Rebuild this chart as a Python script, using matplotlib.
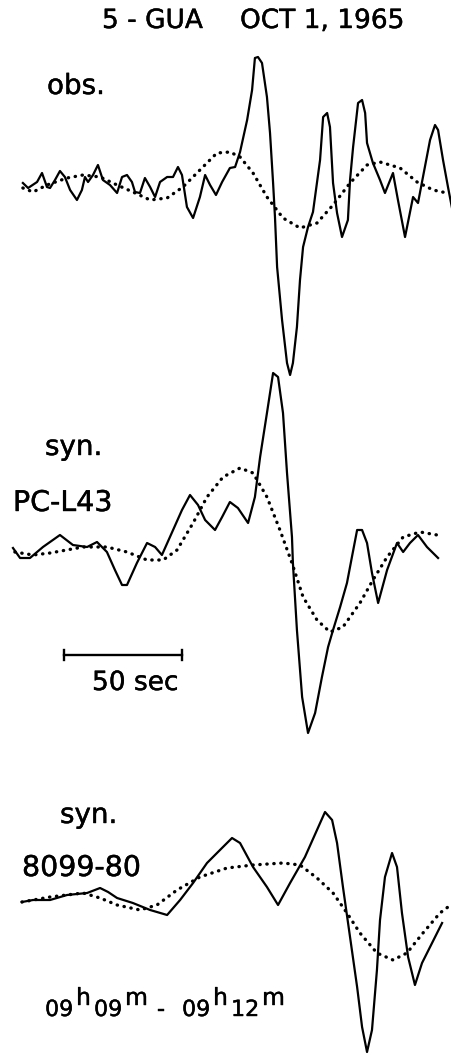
import numpy as np
import matplotlib
matplotlib.use('Agg')
import matplotlib.pyplot as plt
import matplotlib.patheffects as pe

# time in sec, amplitude in arbitrary units (positive up)
obs_t = [4.2, 6.4, 10.2, 12.3, 14.4, 15.7, 17.8, 19.9, 22.0, 24.2, 27.1, 29.2, 30.5, 31.8, 33.9,
         36.0, 38.1, 41.1, 44.1, 46.2, 48.3, 50.4, 51.7, 53.8, 55.9, 58.1, 60.2, 62.3, 65.3, 67.8,
         69.9, 71.6, 73.7, 76.3, 79.2, 81.4, 83.5, 86.0, 88.6, 91.9, 94.1, 96.2, 99.2, 101.3, 102.5,
         103.8, 105.5, 107.6, 108.9, 110.2, 111.0, 111.9, 114.0, 116.1, 117.4, 118.6, 120.3, 121.6,
         122.9, 125.0, 127.1, 130.1, 131.4, 133.1, 134.3, 135.6, 137.3, 139.4, 141.9, 142.8, 144.1,
         146.2, 147.9, 149.2, 150.0, 152.5, 155.5, 157.6, 161.0, 163.1, 166.1, 169.5, 171.6, 173.7,
         176.7, 178.8, 180.1, 182.2, 184.3, 186.0]
obs_a = [0.2, -0.3, 0.3, 1.2, -0.2, -0.3, 0.5, 1.4, 0.8, -0.5, -1.5, -0.5, 0.8, 0.3, 1.0,
         2.0, 0.5, 0.0, -0.8, 0.8, 1.0, 0.3, -0.7, -0.8, 0.7, -0.2, -1.2, 0.3, 0.8, 0.8,
         1.8, 1.0, -2.2, -3.3, -1.2, 1.0, 0.0, -1.0, 0.3, 1.7, 1.8, 3.3, 6.5, 9.5, 12.7,
         12.8, 12.2, 8.8, 5.2, 0.2, -3.2, -8.2, -13.5, -17.8, -19.0, -17.8, -14.2, -9.5,
         -6.2, -4.2, -2.7, 2.5, 6.8, 7.2, 5.8, 0.2, -2.8, -5.2, -3.5, 0.5, 3.8,
         8.2, 8.5, 7.2, 4.2, 2.2, 0.5, -0.8, 1.2, -1.5, -5.2, -1.2, -1.8, 0.8,
         4.5, 6.0, 5.5, 2.5, -0.2, -2.3]
obs_lp_t = [4.2, 8.5, 14.4, 22.9, 29.7, 36.9, 44.1, 50.8, 58.1, 65.3, 72.0, 79.2, 86.4, 91.9,
            96.2, 101.7, 107.6, 114.4, 121.6, 128.8, 135.6, 142.8, 150.0, 155.5, 164.0, 171.2,
            178.0, 183.9]
obs_lp_a = [-0.3, -0.7, 0.0, 0.7, 1.0, 0.8, 0.0, -0.7, -1.5, -1.3, -0.2, 1.5, 3.2, 3.3,
            2.8, 1.2, -1.2, -3.3, -4.3, -3.8, -2.0, 0.2, 2.0, 2.3, 1.7, 0.3,
            -0.5, -0.8]

pc_t = [0.0, 3.0, 7.2, 12.7, 19.9, 25.4, 31.4, 35.6, 39.8, 43.2, 46.2, 48.3, 52.5, 56.8, 60.2,
        63.1, 66.5, 71.6, 75.0, 78.4, 81.4, 85.6, 88.6, 91.9, 95.3, 99.6, 102.5, 104.7, 107.6,
        110.2, 112.3, 114.4, 116.1, 118.2, 118.6, 120.3, 122.5, 125.0, 128.0, 130.9, 133.5,
        135.6, 138.6, 141.5, 143.6, 145.8, 147.9, 150.0, 152.1, 154.7, 158.5, 162.7, 165.3,
        168.2, 171.6, 175.4, 180.1]
pc_a = [0.2, -0.8, -0.8, 0.3, 1.5, 0.5, 0.3, 0.8, -0.2, -2.0, -3.5, -3.5, -1.3, 0.7, 0.3,
        -0.5, 1.3, 4.0, 5.5, 4.5, 3.0, 2.0, 3.3, 4.8, 4.2, 2.7, 5.3, 9.3, 13.7,
        17.7, 17.3, 13.7, 7.7, 1.3, -1.3, -8.0, -14.7, -18.3, -16.3, -12.7, -9.7,
        -8.0, -5.7, -3.3, -0.7, 2.0, 2.0, 0.7, -2.3, -5.3, -2.0, 0.7, -0.2,
        0.7, 1.5, 0.3, -0.8]
pc_lp_t = [0.8, 8.5, 15.7, 29.7, 39.8, 48.3, 56.8, 63.6, 69.5, 76.3, 82.2, 89.0, 96.2, 101.7,
           107.6, 113.1, 118.2, 122.9, 128.8, 134.3, 139.8, 147.0, 152.5, 158.5, 165.3, 172.5,
           179.7]
pc_lp_a = [-0.2, -0.5, -0.3, 0.3, 0.3, -0.2, -1.0, -1.0, 0.0, 2.7, 5.3, 7.3, 8.2, 7.7,
           5.3, 2.0, -1.3, -4.7, -7.0, -8.2, -7.7, -5.3, -3.0, -0.7, 1.3, 1.8,
           1.5]

m80_t = [3.8, 8.5, 15.7, 22.9, 31.4, 36.9, 40.3, 44.1, 50.8, 58.1, 65.3, 70.8, 76.3, 82.2, 87.7,
         92.8, 96.2, 101.7, 107.6, 112.3, 117.4, 123.7, 128.8, 132.2, 135.2, 137.3, 139.8, 142.8,
         145.8, 147.9, 150.0, 152.1, 154.2, 155.5, 157.6, 160.6, 162.7, 164.8, 167.4, 170.3,
         173.3, 176.7, 181.8]
m80_a = [-0.2, 0.0, 0.0, 0.5, 0.7, 1.2, 0.8, 0.2, -0.3, -1.0, -1.5, 0.0, 1.7, 3.7, 5.0,
         6.2, 5.7, 3.3, 1.3, -0.5, 1.7, 4.3, 7.0, 8.8, 8.0, 5.7, 1.3, -3.7,
         -8.7, -12.7, -15.2, -13.0, -7.0, -2.0, 2.3, 4.7, 3.3, -1.3, -5.7, -8.5,
         -6.3, -4.7, -2.3]
m80_lp_t = [3.8, 15.7, 29.7, 36.9, 44.1, 53.8, 61.0, 69.5, 79.2, 90.7, 101.7, 114.4, 121.6, 128.8,
            135.6, 141.5, 147.0, 154.2, 161.0, 166.9, 173.7, 180.9, 184.3]
m80_lp_a = [-0.2, 0.3, 0.7, 0.2, -0.5, -1.0, -0.5, 1.0, 2.3, 3.2, 3.5, 3.7, 3.5, 2.2,
            0.7, -1.3, -3.3, -5.3, -6.0, -5.3, -3.3, -1.3, -0.7]

traces = [(obs_t, obs_a, obs_lp_t, obs_lp_a, 0.0),
          (pc_t, pc_a, pc_lp_t, pc_lp_a, -36.5),
          (m80_t, m80_a, m80_lp_t, m80_lp_a, -71.5)]

plt.rcParams['font.family'] = ['DejaVu Sans']
fig = plt.figure(figsize=(4.52, 10.54), dpi=100)
ax = fig.add_axes([0, 0, 1, 1])
ax.set_xlim(-5.5, 186.0)
ax.set_ylim(-86.9, 18.5)
ax.axis('off')

for t, a, tl, al, off in traces:
    ax.plot(t, np.array(a) + off, color='black', lw=1.6, solid_joinstyle='round')
    ax.plot(tl, np.array(al) + off, color='black', lw=2.4,
            linestyle=(0, (0.1, 2.0)), dash_capstyle='round')

# 50 sec scale bar
bar_t0 = 21.6
bar_y = -47.0
ax.plot([bar_t0, bar_t0 + 50], [bar_y, bar_y], color='black', lw=1.7)
ax.plot([bar_t0, bar_t0], [bar_y - 0.5, bar_y + 0.5], color='black', lw=1.7)
ax.plot([bar_t0 + 50, bar_t0 + 50], [bar_y - 0.5, bar_y + 0.5], color='black', lw=1.7)

W, H = 452.0, 1054.0
bold = [pe.withStroke(linewidth=0.3, foreground='black')]
def lab(x, y, s, size=20, va='center'):
    fig.text(x / W, 1 - y / H, s, fontsize=size, ha='left', va=va, path_effects=bold)

lab(102, 21, '5 - GUA', 19)
lab(240, 21, 'OCT 1, 1965', 19)
lab(47, 86, 'obs.', 20)
lab(45, 447, 'syn.', 20)
lab(13, 503, 'PC-L43', 20.5)
lab(92, 683, '50 sec', 19)
lab(60, 815, 'syn.', 20)
lab(22, 868, '8099-80', 20.5)

# 09h09m - 09h12m
time_parts = [('09', 45, 0), ('h', 76, 1), ('09', 94, 0), ('m', 125, 1), ('-', 157, 0),
              ('09', 182, 0), ('h', 213, 1), ('12', 231, 0), ('m', 262, 1)]
for s, x, sup in time_parts:
    if sup:
        lab(x, 1005, s, 17, va='baseline')
    else:
        lab(x, 1016, s, 16, va='baseline')

fig.savefig('out.png', dpi=100)
